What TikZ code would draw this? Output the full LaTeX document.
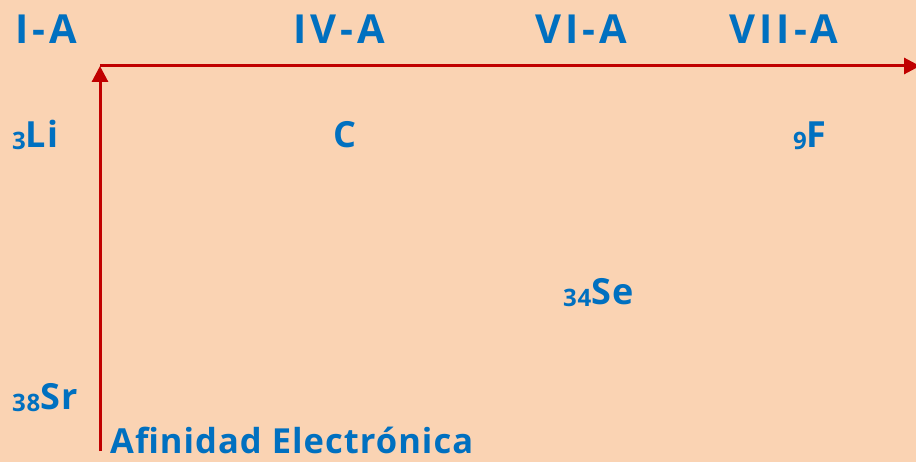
\documentclass[tikz,border=0pt]{standalone}
\usepackage{fontspec}
\setmainfont{Open Sans}[BoldFont={* Bold}, LetterSpace=3]
\newfontfamily\grpfont{Open Sans}[BoldFont={* Bold}, LetterSpace=10]
\usetikzlibrary{arrows.meta}
\definecolor{bgpeach}{HTML}{FAD3B3}
\definecolor{txtblue}{HTML}{0070C0}
\definecolor{axred}{HTML}{C00000}
\newcommand{\subnum}[1]{{\fontsize{24}{24}\selectfont\raisebox{-2pt}{#1}}}
\tikzset{
  grp/.style={text=txtblue, font=\grpfont\bfseries\fontsize{40}{40}\selectfont, inner sep=0pt, anchor=base},
  elem/.style={text=txtblue, font=\bfseries\fontsize{36}{36}\selectfont, inner sep=0pt, anchor=base west},
  axis/.style={draw=axred, line width=3pt, -{Triangle[length=16pt,width=16pt]}}
}
\begin{document}
\begin{tikzpicture}[x=1pt,y=-1pt]
\fill[bgpeach] (0,0) rectangle (916,462);
\useasboundingbox (0,0) rectangle (916,462);
\node[grp] (g1) at (46,44) {I-A};
\node[grp] (g4) at (339,44) {IV-A};
\node[grp] (g6) at (581,44) {VI-A};
\node[grp] (g7) at (784,44) {VII-A};
\node[elem] (li) at (12,148) {\subnum{3}Li};
\node[elem] (c) at (333,148) {C};
\node[elem] (f) at (793,148) {\subnum{9}F};
\node[elem] (se) at (563,305) {\subnum{34}Se};
\node[elem] (sr) at (12,409) {\subnum{38}Sr};
\node[elem, text depth=0pt, font=\bfseries\fontsize{34.5}{34.5}\selectfont] (ae) at (110,453) {Afinidad Electrónica};
\coordinate (orig) at (100,66);
\coordinate (ybot) at (100,451);
\coordinate (xend) at (920,66);
\draw[axis] (ybot) -- (orig);
\draw[axis] (orig) -- (xend);
\end{tikzpicture}
\end{document}
